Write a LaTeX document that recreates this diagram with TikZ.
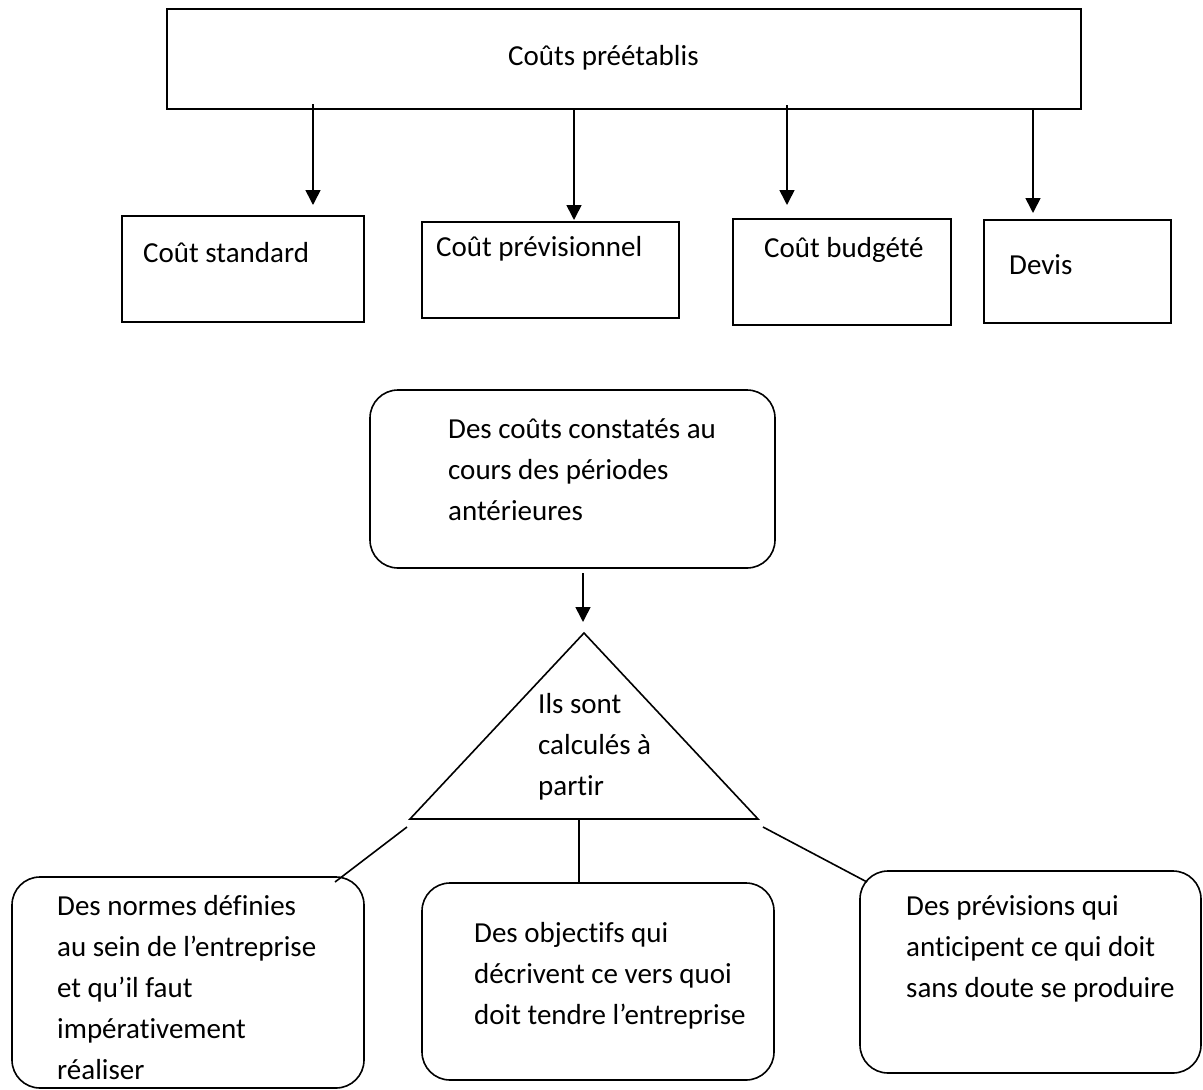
\documentclass[tikz,border=0pt]{standalone}
\usepackage{fontspec}
\setmainfont{Carlito}[Ligatures=NoCommon]
\usetikzlibrary{arrows.meta}
\tikzset{
  box/.style={draw, line width=1.6pt, inner sep=0pt, outer sep=0pt},
  rbox/.style={box, rounded corners=28pt},
  txt/.style={inner sep=0pt, anchor=base west, font=\fontsize{29}{41}\selectfont},
  arr/.style={line width=1.6pt, -{Triangle[width=15pt,length=15pt]}},
  conn/.style={line width=1.6pt}
}
\begin{document}
\begin{tikzpicture}[x=1pt,y=-1pt]
\useasboundingbox (0,0) rectangle (1203,1090);
% top row
\node[box, minimum width=914pt, minimum height=100pt] (top) at (624,59) {};
\node[txt] (toptxt) at (508,65) {Coûts préétablis};
\node[box, minimum width=242pt, minimum height=106pt] (std) at (243,269) {};
\node[txt] (stdtxt) at (143,262) {Coût standard};
\node[box, minimum width=257pt, minimum height=96pt] (prev) at (550.5,270) {};
\node[txt] (prevtxt) at (436,256) {Coût prévisionnel};
\node[box, minimum width=218pt, minimum height=106pt] (budg) at (842,272) {};
\node[txt] (budgtxt) at (764,257) {Coût budgété};
\node[box, minimum width=187pt, minimum height=103pt] (devis) at (1077.5,271.5) {};
\node[txt] (devistxt) at (1009,274) {Devis};
% arrows from top box
\coordinate (e1) at (313,205);
\coordinate (e2) at (574,220);
\coordinate (e3) at (787,205);
\coordinate (e4) at (1033,213);
\draw[arr] ([yshift=5pt]top.south -| e1) -- (e1);
\draw[arr] (top.south -| e2) -- (e2);
\draw[arr] ([yshift=4pt]top.south -| e3) -- (e3);
\draw[arr] (top.south -| e4) -- (e4);
% historical costs box
\node[rbox, minimum width=405pt, minimum height=178pt] (hist) at (572.5,479) {};
\node[txt] (histtxt) at (448,438) {\vtop{\hbox{Des coûts constatés au}\hbox{cours des périodes}\hbox{antérieures}}};
\coordinate (e5) at (583,622);
\draw[arr] ([yshift=-5pt]hist.south -| e5) -- (e5);
% triangle
\coordinate (apex) at (584,633);
\coordinate (tbl) at (410,819);
\coordinate (tbr) at (758,819);
\draw[conn, line join=miter] (apex) -- (tbl) -- (tbr) -- cycle;
\node[txt] (tritxt) at (538,713) {\vtop{\hbox{Ils sont}\hbox{calculés à}\hbox{partir}}};
% bottom boxes
\node[rbox, minimum width=352pt, minimum height=211pt] (left) at (188,982.5) {};
\node[txt] (lefttxt) at (57,915) {\vtop{\hbox{Des normes définies}\hbox{au sein de l’entreprise}\hbox{et qu’il faut}\hbox{impérativement}\hbox{réaliser}}};
\node[rbox, minimum width=352pt, minimum height=197pt] (mid) at (598,981.5) {};
\node[txt] (midtxt) at (474,942) {\vtop{\hbox{Des objectifs qui}\hbox{décrivent ce vers quoi}\hbox{doit tendre l’entreprise}}};
\node[rbox, minimum width=341pt, minimum height=202pt] (right) at (1030.5,972) {};
\node[txt] (righttxt) at (906,915) {\vtop{\hbox{Des prévisions qui}\hbox{anticipent ce qui doit}\hbox{sans doute se produire}}};
% connectors from triangle
\coordinate (l1) at (407,827);
\coordinate (l2) at (335,882);
\coordinate (m1) at (579,819);
\coordinate (r1) at (763,827);
\coordinate (r2) at (867,882);
\draw[conn] (l1) -- (l2);
\draw[conn] (m1) -- (mid.north -| m1);
\draw[conn] (r1) -- (r2);
\end{tikzpicture}
\end{document}
